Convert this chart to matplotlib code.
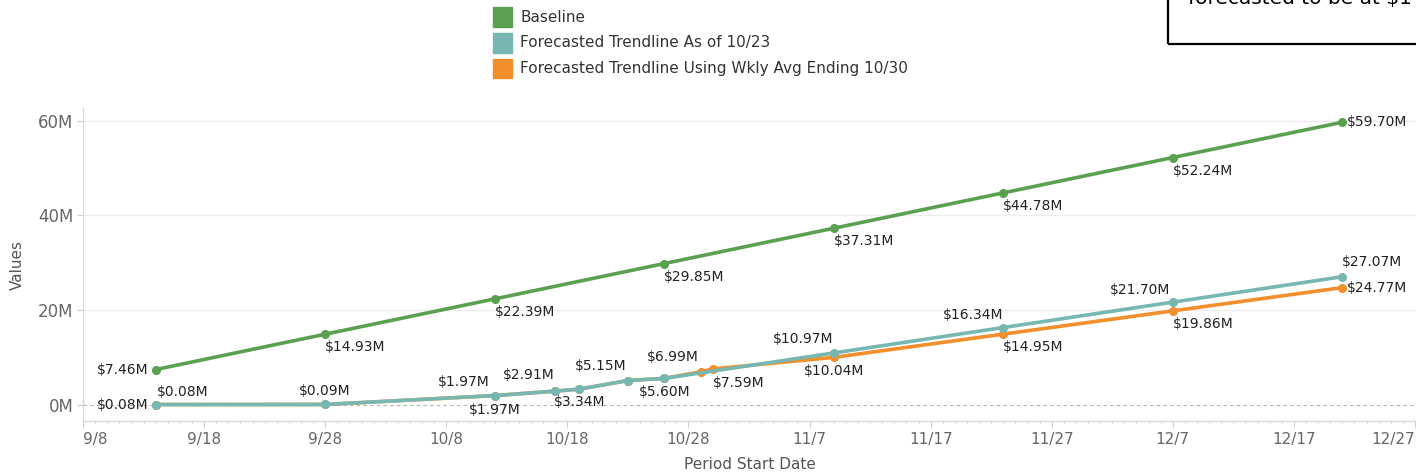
import matplotlib
matplotlib.use("Agg")
import matplotlib.pyplot as plt
import matplotlib.dates as mdates
import matplotlib.patches as mpatches
import pandas as pd

# Series data (values in $M)
series_names = [
    "Baseline",
    "Forecasted Trendline As of 10/23",
    "Forecasted Trendline Using Wkly Avg Ending 10/30",
]

base_dates = ["09-14", "09-28", "10-12", "10-26", "11-09", "11-23", "12-07", "12-21"]
base_vals = [7.46, 14.93, 22.39, 29.85, 37.31, 44.78, 52.24, 59.70]

teal_dates = ["09-14", "09-28", "10-12", "10-17", "10-19", "10-23", "10-26",
              "11-09", "11-23", "12-07", "12-21"]
teal_vals = [0.08, 0.09, 1.97, 2.91, 3.34, 5.15, 5.60, 10.97, 16.34, 21.70, 27.07]

orange_dates = ["09-14", "09-28", "10-12", "10-17", "10-19", "10-23", "10-26",
                "10-29", "10-30", "11-09", "11-23", "12-07", "12-21"]
orange_vals = [0.08, 0.09, 1.97, 2.91, 3.34, 5.15, 5.60, 6.99, 7.59,
               10.04, 14.95, 19.86, 24.77]

x_tick_dates = ["09-08", "09-18", "09-28", "10-08", "10-18", "10-28",
                "11-07", "11-17", "11-27", "12-07", "12-17", "12-27"]
y_ticks = [0, 20, 40, 60]

# label placement per point: (ha, dx px, dy px) or None for no label
base_lbl = [("right", -7, 0)] + [("left", 0, -13)] * 6 + [("left", 5, 0)]
teal_lbl = [("left", 1, 13), ("center", 0, 13), ("right", -5, 14), ("right", -1, 16),
            None, ("right", -1, 15), None, ("right", 0, 14), ("right", 0, 13),
            ("right", -3, 12), ("left", 0, 15)]
orange_lbl = [("right", -7, 0), None, ("center", 0, -14), None, ("center", 0, -13),
              None, ("center", 0, -14), ("right", -2, 15), ("left", 0, -14),
              ("center", 0, -14), ("left", 0, -13), ("left", 0, -13), ("left", 5, 0)]

GREEN = "#59a14f"
TEAL = "#76b7b2"
ORANGE = "#f28e2b"


def to_dates(md):
    return pd.to_datetime(["2020-" + d for d in md])


W, H = 1416, 475
fig = plt.figure(figsize=(W / 100, H / 100), dpi=100)
ax = fig.add_axes([83 / W, 1 - 421 / H, (1416 - 83) / W, (421 - 108) / H])

series = [
    (to_dates(orange_dates), orange_vals, ORANGE, orange_lbl),
    (to_dates(teal_dates), teal_vals, TEAL, teal_lbl),
    (to_dates(base_dates), base_vals, GREEN, base_lbl),
]

ax.axhline(0, color="#b0b0b0", lw=0.8, ls=(0, (3, 3)), zorder=1)
for y in y_ticks[1:]:
    ax.axhline(y, color="#ececec", lw=1, zorder=0)

for dates, vals, color, lbls in series:
    ax.plot(dates, vals, color=color, lw=2.6, marker="o", ms=5.5, zorder=3)
    for d, v, lb in zip(dates, vals, lbls):
        if lb is None:
            continue
        ha, dx, dy = lb
        ax.annotate(f"${v:.2f}M", (d, v), xytext=(dx, dy), textcoords="offset pixels",
                    ha=ha, va="center", fontsize=10, color="#222222", zorder=4)

ax.set_xlim(pd.Timestamp("2020-09-08"), pd.Timestamp("2020-12-27 02:00"))
ax.set_ylim(-3.4, 62.7)

ticks = to_dates(x_tick_dates)
ax.set_xticks(ticks, [f"{d.month}/{d.day}" for d in ticks])
ax.xaxis.set_minor_locator(mdates.DayLocator())
major = ax.xaxis.get_major_ticks()
major[0].label1.set_horizontalalignment("left")
major[-1].label1.set_horizontalalignment("right")

ax.set_yticks(y_ticks, [f"{v}M" for v in y_ticks])

for s in ["top", "right"]:
    ax.spines[s].set_visible(False)
for s in ["left", "bottom"]:
    ax.spines[s].set_color("#d9d9d9")
    ax.spines[s].set_linewidth(1)

ax.tick_params(axis="x", which="major", length=5, color="#d0d0d0", labelsize=11,
               labelcolor="#666666", pad=3)
ax.tick_params(axis="x", which="minor", length=2.5, color="#dddddd")
ax.tick_params(axis="y", length=4, color="#d0d0d0", labelsize=12,
               labelcolor="#666666", pad=3)

ax.set_xlabel("Period Start Date", fontsize=11, color="#555555", labelpad=7)
ax.set_ylabel("Values", fontsize=11, color="#555555", labelpad=9)

# legend drawn by hand
for i, (name, color) in enumerate(zip(series_names, [GREEN, TEAL, ORANGE])):
    yc = 17 + 26 * i
    fig.add_artist(mpatches.Rectangle((493 / W, 1 - (yc + 9.5) / H), 19 / W, 19 / H,
                                      transform=fig.transFigure, color=color))
    fig.text(520 / W, 1 - yc / H, name, fontsize=11, color="#333333", va="center")

# annotation box cut off at the top right
fig.add_artist(mpatches.Rectangle((1168 / W, 1 - 44 / H), 0.3, 0.3,
                                  transform=fig.transFigure, fill=False,
                                  ec="black", lw=1.6, clip_on=False))
fig.text(1188 / W, 1 - 4 / H, "forecasted to be at $1", fontsize=14.5,
         color="black", va="baseline")

fig.savefig("out.png", dpi=100)
